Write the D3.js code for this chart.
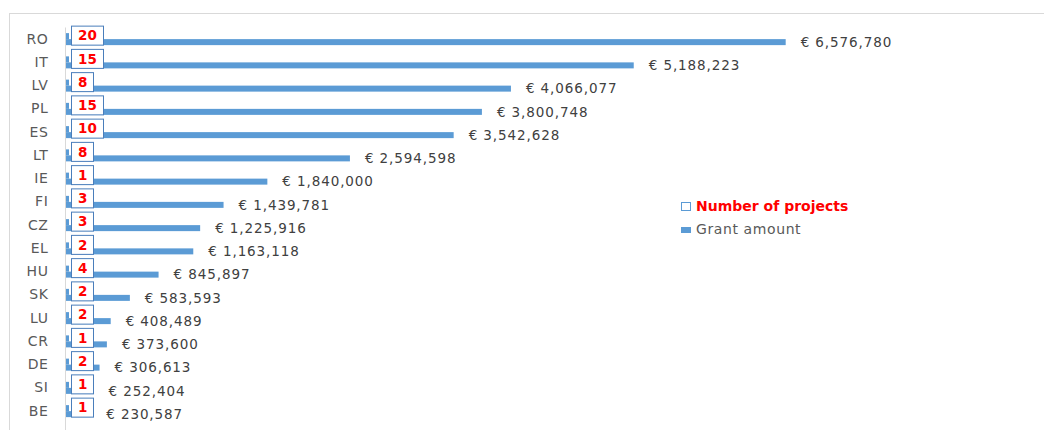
<!DOCTYPE html>
<html>
<head>
<meta charset="utf-8">
<script src="https://cdn.jsdelivr.net/npm/d3@7"></script>
<style>
  body { margin: 0; background: #fff; }
  svg { display: block; font-family: "DejaVu Sans", Verdana, sans-serif; }
</style>
</head>
<body>
<svg class="barChart" width="1044" height="430"></svg>
<script>
// data
const countries = ['RO','IT','LV','PL','ES','LT','IE','FI','CZ','EL','HU','SK','LU','CR','DE','SI','BE'];
const grants = [6576780, 5188223, 4066077, 3800748, 3542628, 2594598, 1840000, 1439781, 1225916,
                1163118, 845897, 583593, 408489, 373600, 306613, 252404, 230587];
const projects = [20, 15, 8, 15, 10, 8, 1, 3, 3, 2, 4, 2, 2, 1, 2, 1, 1];
const seriesNames = ['Number of projects', 'Grant amount'];

const BLUE = '#5b9bd5';
const svg = d3.select('.barChart');

// outer chart border (runs off the right/bottom of the picture)
svg.append('rect')
    .attr('x', 9.5).attr('y', 13.5)
    .attr('width', 1100).attr('height', 500)
    .attr('fill', 'none')
    .attr('stroke', '#d9d9d9');

let xScale = d3.scaleLinear()
    .domain([0, 7000000])
    .range([66, 832]);

let yScale = d3.scaleBand()
    .domain(countries)
    .range([27.5, 27.5 + 23.25 * countries.length]);

let rows = countries.map((c, i) => ({country: c, grant: grants[i], count: projects[i]}));

// y axis
let yAxis = svg.append('g')
    .attr('transform', 'translate(65.5,0)')
    .call(d3.axisLeft(yScale).tickSize(0).tickPadding(17));
yAxis.select('.domain').attr('stroke', '#d9d9d9').attr('d', 'M0,27.5V430');
yAxis.selectAll('text')
    .attr('font-size', 14)
    .attr('letter-spacing', '0.6px')
    .attr('fill', '#595959')
    .attr('font-family', '"DejaVu Sans", Verdana, sans-serif');

let mid = d => yScale(d.country) + yScale.bandwidth() / 2;

// grant bars
svg.append('g').selectAll('rect')
    .data(rows)
    .join('rect')
    .attr('x', xScale(0))
    .attr('y', d => mid(d))
    .attr('width', d => xScale(d.grant) - xScale(0))
    .attr('height', 6)
    .attr('fill', BLUE);

// project count bars (tiny on the euro scale)
svg.append('g').selectAll('rect')
    .data(rows)
    .join('rect')
    .attr('x', xScale(0))
    .attr('y', d => mid(d) - 6)
    .attr('width', d => Math.max(3, xScale(d.count) - xScale(0)))
    .attr('height', 6)
    .attr('fill', BLUE);

// grant value labels
svg.append('g').selectAll('text')
    .data(rows)
    .join('text')
    .attr('x', d => xScale(d.grant) + 15)
    .attr('y', d => mid(d) + 3)
    .attr('dy', '0.35em')
    .attr('font-size', 13.5)
    .attr('letter-spacing', '0.9px')
    .attr('fill', '#404040')
    .text(d => '€ ' + d3.format(',')(d.grant));

// boxed project counts
let boxes = svg.append('g').selectAll('g')
    .data(rows)
    .join('g')
    .attr('transform', d => `translate(71.5,${mid(d) - 13})`);
boxes.append('rect')
    .attr('width', d => String(d.count).length > 1 ? 32 : 22)
    .attr('height', 19)
    .attr('fill', '#fff')
    .attr('stroke', '#4a7ebb');
boxes.append('text')
    .attr('x', 6.5)
    .attr('y', 9.5)
    .attr('dy', '0.35em')
    .attr('font-size', 13.5)
    .attr('font-weight', 'bold')
    .attr('fill', '#ff0000')
    .text(d => d.count);

// legend
let legend = svg.append('g').attr('transform', 'translate(681,206)');
legend.append('rect')
    .attr('x', 0.5).attr('y', -3.5)
    .attr('width', 9).attr('height', 8)
    .attr('fill', '#fff').attr('stroke', BLUE);
legend.append('text')
    .attr('x', 15).attr('y', 0)
    .attr('dy', '0.35em')
    .attr('font-size', 14)
    .attr('font-weight', 'bold')
    .attr('fill', '#ff0000')
    .text(seriesNames[0]);
legend.append('rect')
    .attr('x', 0).attr('y', 21)
    .attr('width', 10).attr('height', 6)
    .attr('fill', BLUE);
legend.append('text')
    .attr('x', 15).attr('y', 23)
    .attr('dy', '0.35em')
    .attr('font-size', 14)
    .attr('letter-spacing', '0.6px')
    .attr('fill', '#595959')
    .text(seriesNames[1]);
</script>
</body>
</html>
